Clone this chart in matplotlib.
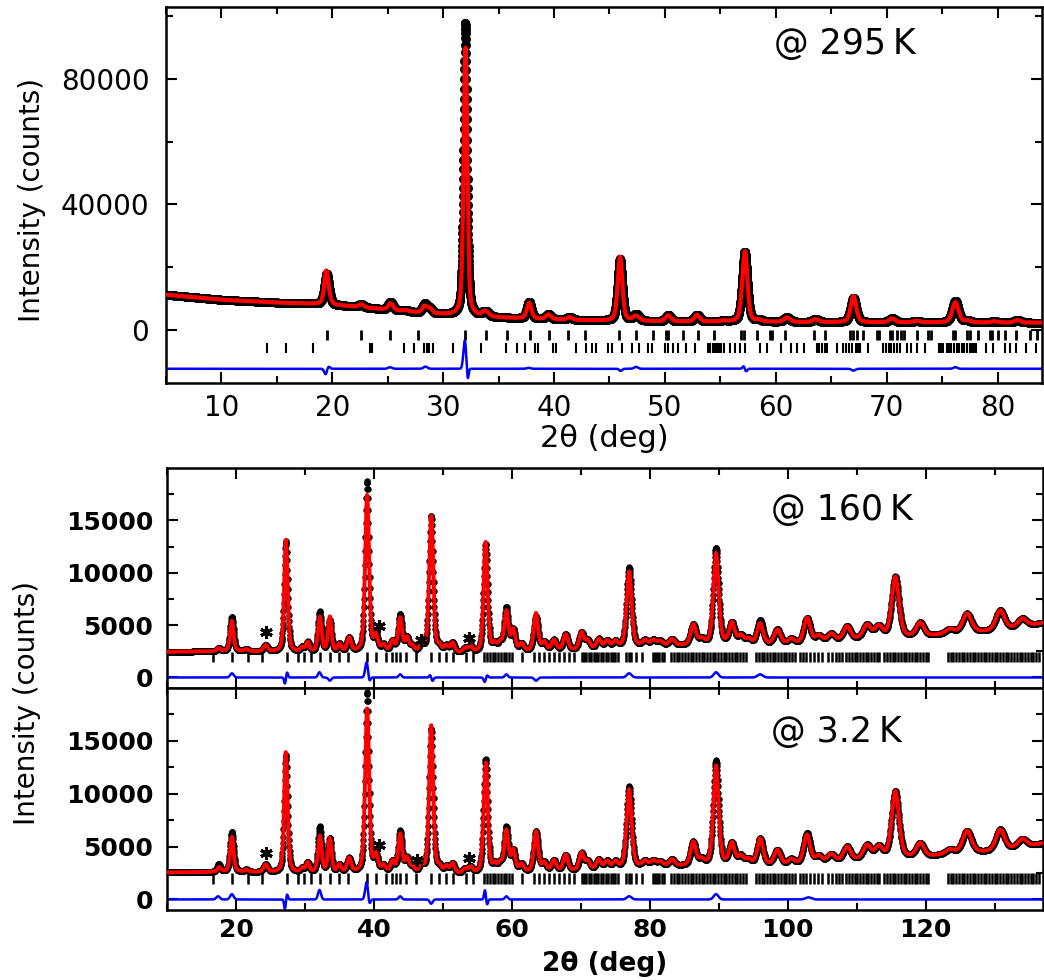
import numpy as np
import matplotlib.pyplot as plt
from matplotlib.ticker import MultipleLocator, FixedLocator

plt.rcParams['font.family'] = ['DejaVu Sans']

# ---------------- X-ray, 295 K ----------------
xr_bg_x = [5, 10, 15, 19, 22, 25, 28, 31, 35, 40, 45, 50, 60, 70, 84]
xr_bg_y = [11200, 9600, 8700, 8200, 7400, 6400, 5400, 4600, 3900, 3300, 2900, 2700, 2500, 2400, 2300]

xr_pos = [19.5, 22.6, 25.25, 26.6, 28.35, 28.8, 32.0, 33.7, 34.0, 37.75, 39.5, 41.4, 45.95, 47.4,
          50.3, 52.9, 55.3, 57.2, 58.5, 61.0, 63.6, 67.0, 70.5, 72.7, 76.2, 77.3, 79.7, 81.8]
xr_height = [9700, 900, 2600, 400, 2800, 1400, 93500, 1200, 800, 5300, 1500, 800, 19800, 2100,
             1900, 2100, 300, 22400, 500, 1400, 900, 7700, 1200, 500, 6900, 500, 400, 800]
xr_fwhm = [0.5, 0.55, 0.5, 0.55, 0.5, 0.5, 0.38, 0.5, 0.5, 0.48, 0.55, 0.55, 0.5, 0.6,
           0.55, 0.55, 0.55, 0.55, 0.55, 0.65, 0.65, 0.6, 0.65, 0.65, 0.65, 0.65, 0.65, 0.65]

xr_mis_pos = [19.4, 19.65, 25.2, 28.4, 31.95, 32.2, 37.7, 46.0, 47.4, 57.1, 57.3, 67.0, 76.2]
xr_mis_amp = [-1800, 800, 500, 700, 9000, -4000, 300, -700, 600, 900, -900, -600, 500]
xr_mis_w = [0.3, 0.3, 0.4, 0.4, 0.3, 0.2, 0.4, 0.3, 0.4, 0.25, 0.25, 0.4, 0.4]

xr_ticks1 = [19.5, 22.6, 25.2, 27.7, 32.0, 33.9, 35.8, 37.8, 39.5, 41.3, 42.8, 45.9, 47.4, 48.9,
             50.1, 50.3, 51.6, 53.0, 54.4, 56.9, 57.1, 58.3, 59.5, 59.7, 60.8, 63.4, 64.4, 66.7,
             67.0, 67.3, 67.9, 69.1, 69.3, 70.3, 70.5, 70.9, 71.3, 71.6, 72.7, 73.7, 74.0, 76.0,
             76.2, 77.2, 77.5, 78.2, 79.3, 79.5, 80.0, 80.7, 81.7, 82.9, 83.6]
xr_ticks2 = [14.1, 15.8, 18.3, 23.4, 23.6, 26.5, 27.4, 28.3, 28.5, 28.7, 29.1, 30.9, 33.4, 35.7,
             36.7, 37.35, 38.25, 38.55, 39.9, 40.2, 42.0, 42.9, 43.4, 43.8, 44.9, 45.2, 46.1, 47.0,
             47.7, 48.5, 48.8, 50.0, 50.3, 50.7, 51.2, 51.9, 52.7, 53.9, 54.1, 54.3, 54.5, 54.7,
             54.9, 55.1, 55.3, 55.9, 56.3, 56.8, 57.2, 58.6, 59.2, 60.5, 61.4, 61.9, 62.5, 63.7,
             63.9, 64.2, 64.4, 64.6, 65.5, 66.1, 66.3, 66.6, 66.9, 67.2, 67.4, 67.6, 68.3, 69.7,
             69.9, 70.2, 70.4, 70.7, 70.9, 71.2, 71.8, 72.2, 72.7, 73.5, 74.7, 74.9, 75.1, 75.4,
             75.6, 75.8, 76.1, 76.3, 76.5, 76.8, 77.0, 77.2, 77.5, 77.7, 77.9, 78.1, 79.0, 79.6,
             80.7, 81.1, 81.7, 82.6, 83.5]

# ---------------- neutron, 160 K and 3.2 K ----------------
n_pos = [17.5, 19.4, 21.5, 24.3, 27.25, 29.6, 30.4, 32.15, 33.6, 35.0, 36.4, 39.0, 40.3, 41.4,
         42.7, 43.8, 44.8, 45.6, 46.9, 48.3, 49.5, 50.5, 51.4, 53.2, 54.0, 56.2, 57.5, 58.3,
         59.2, 60.2, 61.4, 63.5, 64.7, 66.1, 67.8, 70.1, 71.0, 72.6, 73.8, 75.0, 77.0, 79.3,
         80.5, 81.5, 83.2, 86.3, 87.5, 89.6, 91.9, 93.2, 94.3, 96.0, 98.5, 100.5, 102.8, 104.5,
         106.3, 108.6, 111.5, 113.2, 115.6, 119.2, 123.5, 126.0, 130.8, 134.0]
n_fwhm = [0.6, 0.6, 0.6, 0.7, 0.6, 0.6, 0.6, 0.6, 0.6, 0.6, 0.7, 0.65, 0.7, 0.7,
          0.7, 0.65, 0.7, 0.7, 0.7, 0.7, 0.7, 0.7, 0.7, 0.7, 0.7, 0.7, 0.7, 0.7,
          0.7, 0.7, 0.75, 0.75, 0.75, 0.8, 0.8, 0.8, 0.8, 0.8, 0.8, 0.8, 0.85, 0.9,
          0.9, 0.9, 0.9, 0.9, 0.9, 0.9, 0.95, 0.95, 0.95, 1.0, 1.1, 1.1, 1.1, 1.1,
          1.2, 1.2, 1.3, 1.3, 1.25, 1.3, 1.4, 1.5, 1.5, 1.5]
h160 = [300, 3300, 200, 600, 10600, 400, 900, 3800, 3000, 700, 1300, 16300, 1400, 600,
        1000, 3500, 1300, 500, 700, 13000, 500, 600, 900, 400, 600, 10300, 700, 800,
        4100, 2000, 700, 3300, 800, 1000, 1500, 1600, 800, 900, 700, 600, 7600, 500,
        500, 400, 600, 1900, 500, 9200, 2000, 800, 500, 2300, 1400, 500, 2400, 600,
        700, 1300, 1300, 1100, 5800, 1300, 400, 1800, 1900, 800]
h3 = [700, 3800, 200, 700, 11100, 400, 900, 4300, 3200, 700, 1300, 17000, 1500, 600,
      1000, 3900, 1300, 500, 700, 13600, 500, 600, 900, 400, 600, 10800, 700, 800,
      4200, 2000, 700, 3800, 800, 1000, 1500, 1600, 800, 900, 700, 600, 7700, 500,
      500, 400, 600, 2200, 500, 9900, 2000, 800, 500, 2500, 1400, 500, 2900, 600,
      700, 1300, 1300, 1100, 6300, 1300, 400, 2100, 2000, 800]

bg160_x = [10, 20, 30, 40, 50, 55, 60, 70, 80, 90, 100, 110, 120, 124, 130, 134, 137]
bg160_y = [2450, 2500, 2400, 2400, 2300, 2300, 2400, 2600, 3000, 3100, 3100, 3600, 3900, 4200, 4400, 4800, 5200]
bg3_y = [2550, 2600, 2500, 2500, 2400, 2400, 2500, 2700, 3100, 3200, 3200, 3700, 4000, 4300, 4500, 4900, 5300]

mis160_pos = [19.4, 27.1, 27.4, 32.1, 33.6, 38.95, 39.3, 43.8, 48.2, 48.45, 56.1, 56.35, 59.2, 63.5, 77.0, 89.6, 96.0]
mis160_amp = [400, -600, 500, 500, -300, 1500, -500, 300, 300, -400, -500, 300, 300, -300, 400, 500, 300]
mis160_w = [0.6, 0.3, 0.3, 0.5, 0.5, 0.5, 0.4, 0.5, 0.4, 0.4, 0.4, 0.4, 0.5, 0.6, 0.8, 0.8, 0.9]
mis3_pos = [17.4, 19.4, 27.1, 27.4, 32.1, 38.95, 39.3, 43.8, 48.3, 56.1, 56.4, 59.2, 77.0, 89.6, 103.0]
mis3_amp = [300, 500, -900, 500, 900, 1700, -600, 300, -400, 900, -500, 300, 300, 500, 200]
mis3_w = [0.6, 0.6, 0.3, 0.3, 0.5, 0.5, 0.4, 0.5, 0.5, 0.3, 0.3, 0.5, 0.8, 0.8, 1.0]

n_ticks = [16.7, 19.4, 21.7, 23.8, 27.4, 29.0, 29.9, 30.9, 32.2, 33.7, 35.0, 36.3, 39.0, 40.3,
           41.7, 42.6, 43.2, 43.8, 44.6, 46.1, 48.3, 49.4, 50.4, 51.4, 53.3, 54.3, 56.0, 56.4,
           56.8, 57.2, 57.6, 58.0, 58.4, 58.8, 59.2, 59.6, 60.0, 61.4, 63.2, 63.9, 64.6, 65.4,
           66.1, 66.9, 67.6, 68.3, 69.0, 70.1, 70.45, 70.8, 71.15, 71.5, 71.85, 72.2, 72.55,
           72.9, 73.25, 73.6, 73.95, 74.3, 74.65, 75.0, 75.35, 76.5, 77.0, 77.3, 78.0, 78.8,
           80.5, 80.8, 81.1, 81.4, 81.7, 82.0, 83.1, 83.5, 83.9, 84.3, 84.7, 85.1, 85.5, 85.9,
           86.3, 86.7, 87.1, 87.5, 87.9, 88.3, 88.7, 89.1, 89.5, 89.9, 90.3, 90.7, 91.1, 91.5,
           91.9, 92.3, 92.7, 93.1, 93.5, 94.0, 95.4, 95.8, 96.2, 96.6, 97.0, 97.4, 97.8, 98.2,
           98.6, 99.0, 99.4, 99.8, 100.2, 100.6, 101.0, 101.8, 102.2, 102.7, 103.2, 103.8, 104.4,
           105.0, 105.8, 106.4, 107.0, 107.5, 107.9, 108.5, 108.9, 109.3, 109.7, 110.1, 110.5,
           110.9, 111.3, 111.7, 112.1, 112.5, 112.9, 113.3, 114.0, 114.4, 114.8, 115.2, 115.6,
           116.0, 116.4, 116.8, 117.2, 117.6, 118.0, 118.4, 118.8, 119.2, 119.6, 120.0, 120.4,
           123.2, 123.6, 124.0, 124.4, 124.8, 125.2, 125.6, 126.0, 126.4, 126.8, 127.2, 127.6,
           128.0, 128.4, 128.8, 129.2, 129.6, 130.0, 130.4, 130.8, 131.2, 131.6, 132.0, 132.4,
           132.8, 133.2, 133.6, 134.0, 134.4, 134.8, 135.2, 135.6, 136.0, 136.4]

star160_x = [24.4, 40.8, 46.8, 53.8]
star160_y = [4300, 4870, 3600, 3800]
star3_x = [24.4, 40.8, 46.3, 53.8]
star3_y = [4400, 5150, 3700, 3900]


def profile(x, pos, height, fwhm, eta=0.4):
    out = np.zeros_like(x)
    for p, h, w in zip(pos, height, fwhm):
        d = (x - p) / w
        out += h * ((1 - eta) * np.exp(-4 * np.log(2) * d ** 2) + eta / (1 + 4 * d ** 2))
    return out


def style_axes(ax, size, weight):
    ax.tick_params(which='both', direction='in', top=True, right=True, width=1.5)
    ax.tick_params(which='major', length=8)
    ax.tick_params(which='minor', length=5)
    for s in ax.spines.values():
        s.set_linewidth(1.8)
    for lab in ax.get_xticklabels() + ax.get_yticklabels():
        lab.set_fontsize(size)
        lab.set_fontweight(weight)


def main():
    fig = plt.figure(figsize=(10.44, 9.8), dpi=100)

    # graph 1: X-ray
    ax1 = fig.add_axes([0.159, 0.609, 0.839, 0.384])
    x = np.arange(5, 84.01, 0.01)
    bg = np.interp(x, xr_bg_x, xr_bg_y)
    obs = bg + profile(x, xr_pos, xr_height, xr_fwhm)
    mis = profile(x, xr_mis_pos, xr_mis_amp, xr_mis_w, eta=0.0)
    calc = obs - mis
    ax1.plot(x, obs, 'o', color='black', ms=6.5, mew=0, zorder=2)
    ax1.plot(x, calc, color='red', lw=3, zorder=3)
    ax1.vlines(xr_ticks1, -3100, -200, color='black', lw=2)
    ax1.vlines(xr_ticks2, -7300, -4200, color='black', lw=1.5)
    ax1.plot(x, mis - 12400, color='#0000ff', lw=1.8)
    ax1.set_xlim(5, 84)
    ax1.set_ylim(-17000, 103000)
    ax1.xaxis.set_major_locator(MultipleLocator(10))
    ax1.xaxis.set_minor_locator(MultipleLocator(5))
    ax1.yaxis.set_major_locator(MultipleLocator(40000))
    ax1.yaxis.set_minor_locator(MultipleLocator(20000))
    ax1.tick_params(axis='x', pad=8)
    ax1.tick_params(axis='y', pad=12)
    style_axes(ax1, 20, 'normal')
    ax1.set_xlabel('2θ (deg)', fontsize=22, labelpad=1)
    ax1.text(0.775, 0.90, '@ 295\u2009K', transform=ax1.transAxes, fontsize=25,
             ha='center', va='center')
    fig.text(0.031, 0.796, 'Intensity (counts)', rotation=90, fontsize=20,
             ha='center', va='center')

    # graph 2 and 3: neutron
    xn = np.arange(10, 137.01, 0.04)
    ax2 = fig.add_axes([0.160, 0.298, 0.839, 0.2245])
    ax3 = fig.add_axes([0.160, 0.0714, 0.839, 0.2266], sharex=ax2)
    panels = [
        (ax2, bg160_y, h160, mis160_pos, mis160_amp, mis160_w, star160_x, star160_y,
         (1450, 2400), '@ 160\u2009K', (0.771, 0.81)),
        (ax3, bg3_y, h3, mis3_pos, mis3_amp, mis3_w, star3_x, star3_y,
         (1500, 2500), '@ 3.2\u2009K', (0.764, 0.80)),
    ]
    for ax, bgy, hts, mp, ma, mw, sx, sy, trow, label, lpos in panels:
        bg = np.interp(xn, bg160_x, bgy)
        obs = bg + profile(xn, n_pos, hts, n_fwhm)
        mis = profile(xn, mp, ma, mw, eta=0.0)
        calc = obs - mis
        ax.plot(xn, obs, 'o', color='black', ms=4.6, mew=0, zorder=2)
        ax.plot(xn, calc, color='red', lw=2.8, zorder=3)
        ax.vlines(n_ticks, trow[0], trow[1], color='black', lw=1.8)
        ax.plot(xn, mis, color='#0000ff', lw=1.8)
        ax.plot(sx, sy, ls='none', marker=(6, 2, 0), ms=9, mew=2.2, color='black', zorder=4)
        ax.set_xlim(10, 137)
        ax.set_ylim(-1000, 20000)
        ax.xaxis.set_major_locator(MultipleLocator(20))
        ax.xaxis.set_minor_locator(MultipleLocator(10))
        ax.yaxis.set_major_locator(FixedLocator([0, 5000, 10000, 15000]))
        ax.yaxis.set_minor_locator(FixedLocator([2500, 7500, 12500, 17500]))
        ax.tick_params(axis='x', pad=6)
        ax.tick_params(axis='y', pad=10)
        style_axes(ax, 18, 'bold')
        ax.text(lpos[0], lpos[1], label, transform=ax.transAxes, fontsize=25,
                ha='center', va='center')
    ax2.tick_params(axis='x', labelbottom=False)
    ax3.set_xlabel('2θ (deg)', fontsize=19, fontweight='bold', labelpad=6)
    fig.text(0.026, 0.283, 'Intensity (counts)', rotation=90, fontsize=20,
             ha='center', va='center')

    fig.savefig('out.png', dpi=100)


if __name__ == '__main__':
    main()
